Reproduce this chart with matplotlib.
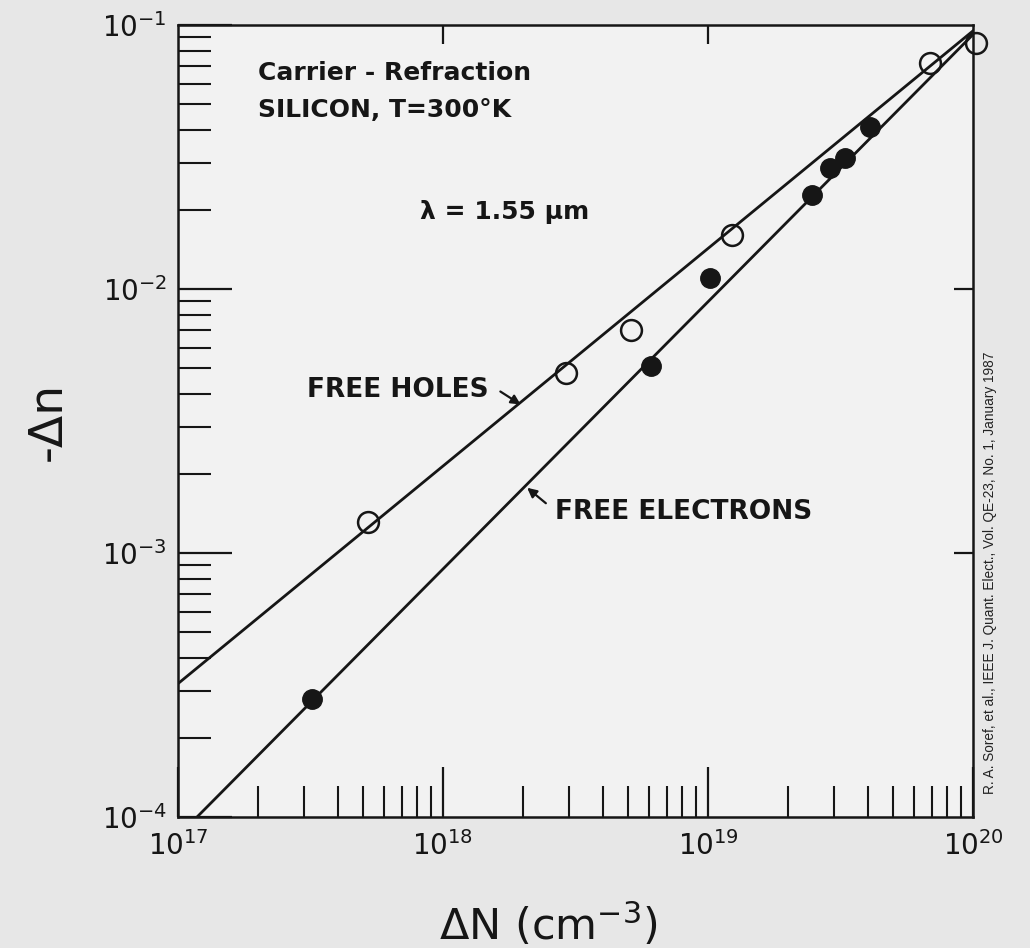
import numpy as np
import matplotlib
matplotlib.use("Agg")
import matplotlib.pyplot as plt

plt.rcParams['font.family'] = ['DejaVu Sans']
plt.rcParams['mathtext.default'] = 'regular'

# measured points (carrier density cm^-3, -delta n)
holes_N = [5.2e17, 2.9e18, 5.1e18, 1.23e19, 6.9e19, 1.03e20]
holes_dn = [1.31e-3, 4.8e-3, 7.0e-3, 1.6e-2, 7.2e-2, 8.55e-2]

elec_N = [3.2e17, 6.1e18, 1.02e19, 2.47e19, 2.88e19, 3.29e19, 4.08e19]
elec_dn = [2.8e-4, 5.1e-3, 1.1e-2, 2.27e-2, 2.87e-2, 3.13e-2, 4.1e-2]

# fitted lines (end points)
holes_fit_N = [1e17, 1e20]
holes_fit_dn = [3.2e-4, 9.5e-2]
elec_fit_N = [1.18e17, 1e20]
elec_fit_dn = [1e-4, 9.2e-2]

ink = '#161616'

fig = plt.figure(figsize=(10.3, 9.48), dpi=100, facecolor='#e7e7e7')
ax = fig.add_axes([178/1030, 1-817/948, 795/1030, 792/948])
ax.set_facecolor('#f2f2f2')

ax.plot(holes_fit_N, holes_fit_dn, color=ink, lw=2.0, zorder=2)
ax.plot(elec_fit_N, elec_fit_dn, color=ink, lw=2.0, zorder=2)
ax.plot(holes_N, holes_dn, 'o', ms=15, mfc='none', mec=ink, mew=1.8, clip_on=False, zorder=3)
ax.plot(elec_N, elec_dn, 'o', ms=14, mfc=ink, mec=ink, zorder=3)

ax.set_xscale('log')
ax.set_yscale('log')
ax.set_xlim(1e17, 1e20)
ax.set_ylim(1e-4, 1e-1)

for s in ax.spines.values():
    s.set_linewidth(1.8)
    s.set_color(ink)

ax.tick_params(which='both', direction='in', color=ink, top=False, right=False, labelcolor=ink)
ax.tick_params(axis='x', which='major', length=36, width=1.6, pad=10, labelsize=20)
ax.tick_params(axis='x', which='minor', length=22, width=1.5)
ax.tick_params(axis='y', which='major', length=39, width=1.6, pad=8, labelsize=20)
ax.tick_params(axis='y', which='minor', length=24, width=1.5)
ax.set_xticks([1e17, 1e18, 1e19, 1e20])
ax.set_yticks([1e-4, 1e-3, 1e-2, 1e-1])
ax.xaxis.set_minor_locator(matplotlib.ticker.LogLocator(subs=np.arange(2, 10)))
ax.yaxis.set_minor_locator(matplotlib.ticker.LogLocator(subs=np.arange(2, 10)))
ax.xaxis.set_minor_formatter(matplotlib.ticker.NullFormatter())
ax.yaxis.set_minor_formatter(matplotlib.ticker.NullFormatter())

# short ticks on top and right
top = ax.secondary_xaxis('top')
top.set_xticks([1e18, 1e19])
top.tick_params(direction='in', length=14, width=1.6, labeltop=False, color=ink)
top.xaxis.set_minor_locator(matplotlib.ticker.NullLocator())
right = ax.secondary_yaxis('right')
right.set_yticks([1e-3, 1e-2])
right.tick_params(direction='in', length=14, width=1.6, labelright=False, color=ink)
right.yaxis.set_minor_locator(matplotlib.ticker.NullLocator())
for s in list(top.spines.values()) + list(right.spines.values()):
    s.set_visible(False)

ax.set_xlabel('ΔN (cm$^{-3}$)', fontsize=31, color=ink)
ax.xaxis.set_label_coords((548-178)/795, -(925-817)/792)
ax.xaxis.label.set_va('center')
ax.set_ylabel('-Δn', fontsize=34, labelpad=22, color=ink)

txt = dict(color=ink, va='center', fontweight='bold')
ax.text(258, 948-73, 'Carrier - Refraction', transform=None, fontsize=18, **txt)
ax.text(258, 948-110, 'SILICON, T=300°K', transform=None, fontsize=18, **txt)
ax.text(420, 948-212, 'λ = 1.55 μm', transform=None, fontsize=18, **txt)
ax.text(307, 948-390, 'FREE HOLES', transform=None, fontsize=19, **txt)
ax.text(555, 948-512, 'FREE ELECTRONS', transform=None, fontsize=19, **txt)

ax.annotate('', xy=(523, 948-406), xycoords='figure pixels',
            xytext=(498, 948-390), textcoords='figure pixels',
            arrowprops=dict(arrowstyle='-|>', color=ink, lw=1.6, mutation_scale=14))
ax.annotate('', xy=(525, 948-486), xycoords='figure pixels',
            xytext=(548, 948-505), textcoords='figure pixels',
            arrowprops=dict(arrowstyle='-|>', color=ink, lw=1.6, mutation_scale=14))

fig.text(990/1030, 1-573/948, 'R. A. Soref, et al., IEEE J. Quant. Elect., Vol. QE-23, No. 1, January 1987',
         rotation=90, fontsize=9.8, family='Liberation Sans', color='#222222', ha='center', va='center')

fig.savefig('out.png', dpi=100, facecolor=fig.get_facecolor())
